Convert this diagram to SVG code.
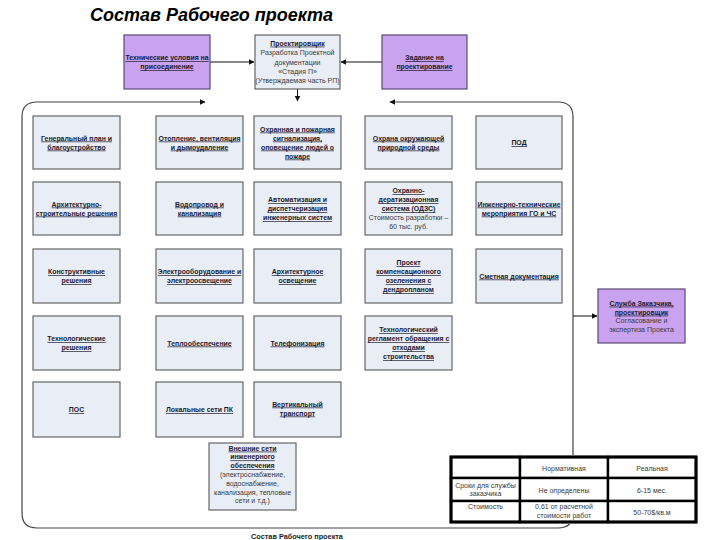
<svg xmlns="http://www.w3.org/2000/svg" width="720" height="540" viewBox="0 0 720 540">
<defs>
<style>
.box{fill:#e9edf6;stroke:#666;stroke-width:1.2}
.pbox{fill:#c9a3ef;stroke:#5a4a74;stroke-width:1.2}
.t{font-family:"Liberation Sans",Arial,sans-serif;font-size:7px;text-anchor:middle;fill:#3a3a3a}
.u{fill:#1b1b30;text-decoration:underline;font-weight:bold;font-size:6.9px}
.tt{font-family:"Liberation Sans",Arial,sans-serif;font-size:7px;text-anchor:middle;fill:#3a3a3a}
.ln{fill:none;stroke:#111;stroke-width:1}
.frame{fill:none;stroke:#444;stroke-width:1.2}
.cell{fill:#fff;stroke:#000;stroke-width:2.4}
</style>
<marker id="ah" viewBox="0 0 10 10" refX="9" refY="5" markerWidth="6" markerHeight="6" orient="auto" markerUnits="userSpaceOnUse">
<path d="M0,0 L10,5 L0,10 z" fill="#111"/>
</marker>
</defs>
<rect width="720" height="540" fill="#fff"/>
<text x="90" y="21" font-family="Liberation Sans,Arial,sans-serif" font-size="18" font-weight="bold" font-style="italic" fill="#000">Состав Рабочего проекта</text>

<g id="connectors">
<path class="frame" d="M300,528 L37,528 Q22,528 22,513 L22,117 Q22,102 37,102 L205,102" marker-end="url(#ah)"/>
<path class="frame" d="M300,528 L558,528 Q573,528 573,513 L573,117 Q573,102 558,102 L390,102" marker-end="url(#ah)"/>
<line class="ln" x1="210" y1="62" x2="254" y2="62" marker-end="url(#ah)"/>
<line class="ln" x1="382" y1="62" x2="341" y2="62" marker-end="url(#ah)"/>
<line class="ln" x1="297.5" y1="89" x2="297.5" y2="101" marker-end="url(#ah)"/>
<line class="ln" x1="573" y1="316" x2="597" y2="316" marker-end="url(#ah)"/>
</g>

<g id="n-tu">
<rect class="pbox" x="124" y="35" width="86" height="54"/>
<text class="t u" x="167" y="60">Технические условия на</text>
<text class="t u" x="167" y="69">присоединение</text>
</g>
<g id="n-proekt">
<rect class="box" x="255" y="35" width="85" height="54"/>
<text class="t u" x="297.5" y="45.6">Проектировщик</text>
<text class="t" x="297.5" y="55.1">Разработка Проектной</text>
<text class="t" x="297.5" y="64.6">документации</text>
<text class="t" x="297.5" y="73.6">«Стадия П»</text>
<text class="t" x="297.5" y="82.6">(Утверждаемая часть РП)</text>
</g>
<g id="n-zadanie">
<rect class="pbox" x="382" y="35" width="85" height="54"/>
<text class="t u" x="424.5" y="60">Задание на</text>
<text class="t u" x="424.5" y="69">проектирование</text>
</g>

<g id="n-genplan">
<rect class="box" x="33" y="116" width="87" height="53"/>
<text class="t u" x="76.5" y="140.5">Генеральный план и</text>
<text class="t u" x="76.5" y="149.5">благоустройство</text>
</g>
<g id="n-ov">
<rect class="box" x="156" y="116" width="87" height="53"/>
<text class="t u" x="199.5" y="140.5">Отопление, вентиляция</text>
<text class="t u" x="199.5" y="149.5">и дымоудаление</text>
</g>
<g id="n-ops">
<rect class="box" x="254" y="116" width="87" height="53"/>
<text class="t u" x="297.5" y="131.5">Охранная и пожарная</text>
<text class="t u" x="297.5" y="140.5">сигнализация,</text>
<text class="t u" x="297.5" y="149.5">оповещение людей о</text>
<text class="t u" x="297.5" y="158.5">пожаре</text>
</g>
<g id="n-oos">
<rect class="box" x="365" y="116" width="87" height="53"/>
<text class="t u" x="408.5" y="140.5">Охрана окружающей</text>
<text class="t u" x="408.5" y="149.5">природной среды</text>
</g>
<g id="n-pod">
<rect class="box" x="476" y="116" width="86" height="53"/>
<text class="t u" x="519" y="145">ПОД</text>
</g>

<g id="n-ar">
<rect class="box" x="33" y="182" width="87" height="53"/>
<text class="t u" x="76.5" y="206.5">Архитектурно-</text>
<text class="t u" x="76.5" y="215.5">строительные решения</text>
</g>
<g id="n-vk">
<rect class="box" x="156" y="182" width="87" height="53"/>
<text class="t u" x="199.5" y="206.5">Водопровод и</text>
<text class="t u" x="199.5" y="215.5">канализация</text>
</g>
<g id="n-avt">
<rect class="box" x="254" y="182" width="87" height="53"/>
<text class="t u" x="297.5" y="202">Автоматизация и</text>
<text class="t u" x="297.5" y="211">диспетчеризация</text>
<text class="t u" x="297.5" y="220">инженерных систем</text>
</g>
<g id="n-odzs">
<rect class="box" x="365" y="182" width="87" height="53"/>
<text class="t u" x="408.5" y="193">Охранно-</text>
<text class="t u" x="408.5" y="202">дератизационная</text>
<text class="t u" x="408.5" y="211">система (ОДЗС)</text>
<text class="t" x="408.5" y="220">Стоимость разработки –</text>
<text class="t" x="408.5" y="229">60 тыс. руб.</text>
</g>
<g id="n-itm">
<rect class="box" x="476" y="182" width="86" height="53"/>
<text class="t u" x="519" y="206.5">Инженерно-технические</text>
<text class="t u" x="519" y="215.5">мероприятия ГО и ЧС</text>
</g>

<g id="n-kr">
<rect class="box" x="33" y="249" width="87" height="54"/>
<text class="t u" x="76.5" y="274">Конструктивные</text>
<text class="t u" x="76.5" y="283">решения</text>
</g>
<g id="n-eo">
<rect class="box" x="156" y="249" width="87" height="54"/>
<text class="t u" x="199.5" y="274">Электрооборудование и</text>
<text class="t u" x="199.5" y="283">электроосвещение</text>
</g>
<g id="n-arh-osv">
<rect class="box" x="254" y="249" width="87" height="54"/>
<text class="t u" x="297.5" y="274">Архитектурное</text>
<text class="t u" x="297.5" y="283">освещение</text>
</g>
<g id="n-ozel">
<rect class="box" x="365" y="249" width="87" height="54"/>
<text class="t u" x="408.5" y="265">Проект</text>
<text class="t u" x="408.5" y="274">компенсационного</text>
<text class="t u" x="408.5" y="283">озеленения с</text>
<text class="t u" x="408.5" y="292">дендропланом</text>
</g>
<g id="n-smeta">
<rect class="box" x="476" y="249" width="86" height="54"/>
<text class="t u" x="519" y="278.5">Сметная документация</text>
</g>

<g id="n-tr">
<rect class="box" x="33" y="316" width="87" height="54"/>
<text class="t u" x="76.5" y="341">Технологические</text>
<text class="t u" x="76.5" y="350">решения</text>
</g>
<g id="n-teplo">
<rect class="box" x="156" y="316" width="87" height="54"/>
<text class="t u" x="199.5" y="345.5">Теплообеспечение</text>
</g>
<g id="n-tel">
<rect class="box" x="254" y="316" width="87" height="54"/>
<text class="t u" x="297.5" y="345.5">Телефонизация</text>
</g>
<g id="n-otx">
<rect class="box" x="365" y="316" width="87" height="54"/>
<text class="t u" x="408.5" y="332">Технологический</text>
<text class="t u" x="408.5" y="341">регламент обращения с</text>
<text class="t u" x="408.5" y="350">отходами</text>
<text class="t u" x="408.5" y="359">строительства</text>
</g>

<g id="n-pos">
<rect class="box" x="33" y="382" width="87" height="55"/>
<text class="t u" x="76.5" y="412">ПОС</text>
</g>
<g id="n-lvs">
<rect class="box" x="156" y="382" width="87" height="55"/>
<text class="t u" x="199.5" y="412">Локальные сети ПК</text>
</g>
<g id="n-vt">
<rect class="box" x="254" y="382" width="87" height="55"/>
<text class="t u" x="297.5" y="406.5">Вертикальный</text>
<text class="t u" x="297.5" y="415.5">транспорт</text>
</g>
<g id="n-vneshn">
<rect class="box" x="209" y="443" width="87" height="67"/>
<text class="t u" x="252.5" y="450.6">Внешние сети</text>
<text class="t u" x="252.5" y="459.4">инженерного</text>
<text class="t u" x="252.5" y="468.2">обеспечения</text>
<text class="t" x="252.5" y="477">(электроснабжение,</text>
<text class="t" x="252.5" y="485.8">водоснабжение,</text>
<text class="t" x="252.5" y="494.6">канализация, тепловые</text>
<text class="t" x="252.5" y="503.4">сети и т.д.)</text>
</g>

<g id="n-sluzhba">
<rect class="pbox" x="598" y="289" width="87" height="54"/>
<text class="t u" x="641.5" y="305.6">Служба Заказчика,</text>
<text class="t u" x="641.5" y="314.6">проектировщик</text>
<text class="t" x="641.5" y="323.1">Согласование и</text>
<text class="t" x="641.5" y="331.6">экспертиза Проекта</text>
</g>

<g id="table">
<rect x="449" y="455" width="249" height="69" fill="#fff"/>
<rect class="cell" x="451" y="457" width="69" height="21"/>
<rect class="cell" x="520" y="457" width="88" height="21"/>
<rect class="cell" x="608" y="457" width="88" height="21"/>
<rect class="cell" x="451" y="478" width="69" height="23"/>
<rect class="cell" x="520" y="478" width="88" height="23"/>
<rect class="cell" x="608" y="478" width="88" height="23"/>
<rect class="cell" x="451" y="501" width="69" height="21"/>
<rect class="cell" x="520" y="501" width="88" height="21"/>
<rect class="cell" x="608" y="501" width="88" height="21"/>
<rect x="451" y="457" width="245" height="65" fill="none" stroke="#000" stroke-width="3"/>
<text class="tt" x="564" y="470.5">Нормативная</text>
<text class="tt" x="652" y="470.5">Реальная</text>
<text class="tt" x="485.5" y="487.5">Сроки для службы</text>
<text class="tt" x="485.5" y="496">заказчика</text>
<text class="tt" x="564" y="492.5">Не определены</text>
<text class="tt" x="652" y="492.5">6-15 мес.</text>
<text class="tt" x="485.5" y="508.5">Стоимость</text>
<text class="tt" x="564" y="509">0,61 от расчетной</text>
<text class="tt" x="564" y="517.5">стоимости работ</text>
<text class="tt" x="652" y="514.5">50-70$/кв.м</text>
</g>

<text x="297" y="539" font-family="Liberation Sans,Arial,sans-serif" font-size="7.3" font-weight="bold" text-anchor="middle" fill="#222">Состав Рабочего проекта</text>
</svg>
